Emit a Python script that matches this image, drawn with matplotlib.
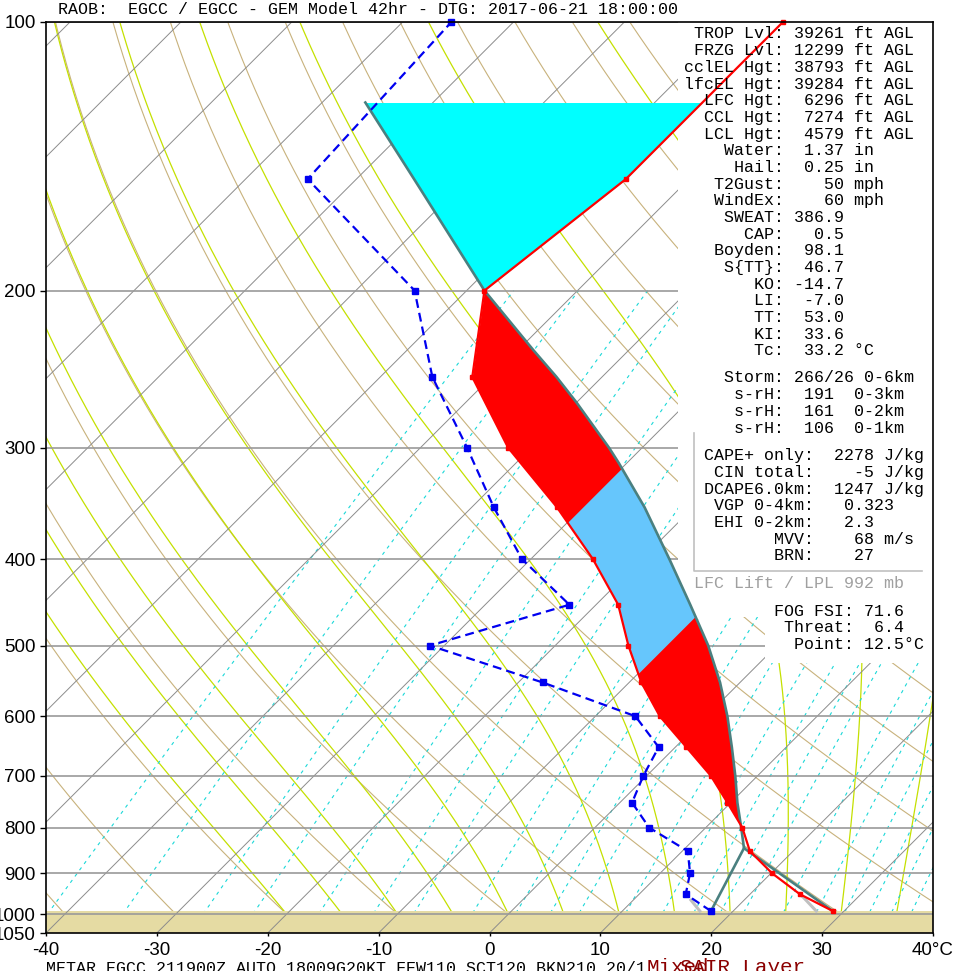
import numpy as np
import matplotlib
matplotlib.use('Agg')
import matplotlib.pyplot as plt
from matplotlib.patches import Rectangle
from matplotlib.ticker import NullLocator

# sounding levels (hPa), temperature / dewpoint (deg C)
pres = [992.3, 950, 900, 850, 800, 750, 700, 650, 600, 550, 500, 450, 400,
        350, 300, 250, 200, 150, 100]
temp = [29.0, 24.5, 20.1, 16.1, 13.3, 9.7, 5.8, 1.0, -4.2, -8.9, -13.4,
        -18.0, -24.4, -32.3, -42.1, -51.7, -58.4, -55.7, -55.7]
dewp = [18.0, 14.2, 12.7, 10.5, 4.9, 1.1, -0.3, -1.5, -6.4, -17.8, -31.3,
        -22.4, -30.8, -38.0, -45.8, -55.3, -64.7, -84.4, -85.6]

# lifted parcel from LPL 992 mb
parcel_p = [992.3, 843.5, 800, 750, 700, 650, 600, 550, 500, 450, 400, 350,
            312.3, 300, 267.0, 250, 233.3, 200, 150, 123.1]
parcel_t = [29.0, 15.3, 13.2, 10.6, 8.0, 5.1, 1.9, -1.8, -6.2, -11.5, -17.5,
            -24.4, -30.7, -33.0, -40.0, -44.1, -48.6, -58.4, -74.8, -86.1]
lcl_line_p = [992.3, 843.5]
lcl_line_t = [18.0, 15.3]
stub_p = [[964.5, 992.3], [956.4, 992.3]]
stub_t = [[15.2, 17.0], [25.0, 27.5]]
lfc_p = 795.0
el_p = 200.5
sfc_p = 992.3

x_ticks = [-40, -30, -20, -10, 0, 10, 20, 30, 40]
x_labels = ['-40', '-30', '-20', '-10', '0', '10', '20', '30', '40\u00b0C']
p_ticks = [100, 200, 300, 400, 500, 600, 700, 800, 900, 1000, 1050]

dry_theta = np.arange(-40, 171, 10)
moist_thw = np.arange(-20, 41, 5)
mix_ratios = [0.1, 0.2, 0.4, 0.6, 1, 1.5, 2, 3, 4, 5, 6, 8, 10, 12, 14, 16,
              20, 24, 28, 32, 36, 40]

title = 'RAOB:  EGCC / EGCC - GEM Model 42hr - DTG: 2017-06-21 18:00:00'
stat_labels = ['TROP Lvl', 'FRZG Lvl', 'cclEL Hgt', 'lfcEL Hgt', 'LFC Hgt',
               'CCL Hgt', 'LCL Hgt', 'Water', 'Hail', 'T2Gust', 'WindEx',
               'SWEAT', 'CAP', 'Boyden', 'S{TT}', 'KO', 'LI', 'TT', 'KI', 'Tc']
stat_values = ['39261 ft AGL', '12299 ft AGL', '38793 ft AGL', '39284 ft AGL',
               ' 6296 ft AGL', ' 7274 ft AGL', ' 4579 ft AGL', ' 1.37 in',
               ' 0.25 in', '   50 mph', '   60 mph', '386.9', '  0.5',
               ' 98.1', ' 46.7', '-14.7', ' -7.0', ' 53.0', ' 33.6',
               ' 33.2 \u00b0C']
storm_labels = ['Storm', 's-rH', 's-rH', 's-rH']
storm_values = ['266/26 0-6km', ' 191  0-3km', ' 161  0-2km', ' 106  0-1km']
cape_labels = ['CAPE+ only', 'CIN total', 'DCAPE6.0km', 'VGP 0-4km',
               'EHI 0-2km', 'MVV', 'BRN']
cape_values = [' 2278 J/kg', '   -5 J/kg', ' 1247 J/kg', '  0.323', '  2.3',
               '   68 m/s', '   27']
fog_labels = ['FOG FSI', 'Threat', 'Point']
fog_values = ['71.6', ' 6.4', '12.5\u00b0C']
metar = 'METAR EGCC 211900Z AUTO 18009G20KT FEW110 SCT120 BKN210 20/1'

W, H = 966, 971
AX_L, AX_R, AX_T, AX_B = 46, 933, 22, 933
K = ((AX_B - AX_T) / np.log10(1050 / 100.0)) / ((AX_R - AX_L) / 80.0)


def skew(t, p):
    return np.asarray(t, float) + K * np.log10(1050.0 / np.asarray(p, float))


def px(x, y):
    return x / W, 1 - y / H


def moist_rate(tk, p):
    rd, cp, lv, eps = 287.04, 1005.7, 2.501e6, 0.622
    es = 6.112 * np.exp(17.67 * (tk - 273.15) / (tk - 29.65))
    rs = eps * es / (p - es)
    return (rd * tk + lv * rs) / (cp + lv * lv * rs * eps / (rd * tk * tk)) / p


def moist_adiabats(thw, p):
    tk = np.zeros((len(p), len(thw)))
    tk[0] = np.asarray(thw, float) + 273.15
    for i in range(len(p) - 1):
        h = p[i + 1] - p[i]
        t = tk[i]
        k1 = moist_rate(t, p[i])
        k2 = moist_rate(t + h / 2 * k1, p[i] + h / 2)
        k3 = moist_rate(t + h / 2 * k2, p[i] + h / 2)
        k4 = moist_rate(t + h * k3, p[i] + h)
        tk[i + 1] = t + h / 6 * (k1 + 2 * k2 + 2 * k3 + k4)
    return tk - 273.15


fig = plt.figure(figsize=(W / 100, H / 100), dpi=100)
ax = fig.add_axes([AX_L / W, 1 - AX_B / H, (AX_R - AX_L) / W, (AX_B - AX_T) / H])
ax.set_yscale('log')
ax.set_xlim(-40, 40)
ax.set_ylim(1050, 100)

# background thermodynamic lines
pp = np.geomspace(1050, 100, 400)
for th in dry_theta:
    t = (th + 273.15) * (pp / 1000.0) ** 0.2857 - 273.15
    ax.plot(skew(t, pp), pp, color='#c8b27c', lw=0.8, zorder=1)

p_up = np.linspace(1000, 100, 451)
p_dn = np.linspace(1000, 1050, 26)
m_up = moist_adiabats(moist_thw, p_up)
m_dn = moist_adiabats(moist_thw, p_dn)
for j in range(len(moist_thw)):
    p_all = np.concatenate([p_dn[::-1], p_up[1:]])
    t_all = np.concatenate([m_dn[::-1, j], m_up[1:, j]])
    ax.plot(skew(t_all, p_all), p_all, color='#c4e000', lw=0.9, zorder=1)

pm = np.geomspace(1050, 200, 200)
for w in mix_ratios:
    e = w * pm / (622.0 + w)
    le = np.log(e / 6.112)
    td = 243.5 * le / (17.67 - le)
    ax.plot(skew(td, pm), pm, color='#1ad8d8', lw=0.8, ls=(0, (3, 4)), zorder=1)

ax.axhspan(sfc_p, 1050, color='#e5dba3', lw=0, zorder=1.5)

for t in range(-130, 50, 10):
    ax.plot(skew([t, t], [1050, 100]), [1050, 100], color='#8c8c8c', lw=0.7, zorder=1.6)
for p in p_ticks[:-1]:
    ax.axhline(p, color='#9a9a9a', lw=1.2, zorder=1.6)

# blank panels behind the index text
ax.add_patch(Rectangle(((678 - AX_L) / 887, (AX_B - 617) / 911), 1, 1,
                       transform=ax.transAxes, color='white', lw=0, zorder=2))
ax.add_patch(Rectangle(((765 - AX_L) / 887, (AX_B - 663) / 911), 1, 1,
                       transform=ax.transAxes, color='white', lw=0, zorder=2))
ax.plot([(694 - AX_L) / 887, (694 - AX_L) / 887, (922 - AX_L) / 887],
        [(AX_B - 433) / 911, (AX_B - 571) / 911, (AX_B - 571) / 911],
        transform=ax.transAxes, color='#c0c0c0', lw=1.2, zorder=2.5)

# CAPE / negative area / hail growth fills
pg = np.geomspace(sfc_p, parcel_p[-1], 3000)
lg = np.log(pg)
x_env = np.interp(lg, np.log(pres[::-1]), skew(temp, pres)[::-1])
x_par = np.interp(lg, np.log(parcel_p[::-1]), skew(parcel_t, parcel_p)[::-1])
ax.fill_betweenx(pg, x_env, x_par, where=(x_par > x_env) & (pg <= lfc_p),
                 color='#ff0000', lw=0, zorder=3)
ax.fill_betweenx(pg, x_par, x_env, where=(x_env >= x_par) & (pg <= el_p),
                 color='#00ffff', lw=0, zorder=3)
x_lo = np.maximum(x_env, skew(-30, pg))
x_hi = np.minimum(x_par, skew(-10, pg))
ax.fill_betweenx(pg, x_lo, x_hi, where=(x_hi > x_lo) & (pg <= lfc_p),
                 color='#66c6fc', lw=0, zorder=3.1)

# parcel trace
ax.plot(skew(parcel_t, parcel_p), parcel_p, color='#4a8080', lw=1.9, zorder=4)
ax.plot(skew(lcl_line_t, lcl_line_p), lcl_line_p, color='#4a8080', lw=1.9, zorder=4)
for sp, st in zip(stub_p, stub_t):
    ax.plot(skew(st, sp), sp, color='#c0c0c0', lw=2.2, zorder=4)

# sounding
ax.plot(skew(temp, pres), pres, color='#ff0000', lw=1.6, marker='s', ms=3.5,
        zorder=5, clip_on=False)
ax.plot(skew(dewp, pres), pres, color='#0000f0', lw=1.6, ls=(0, (4, 2.3)),
        marker='s', ms=3.8, zorder=5, clip_on=False)

ax.set_xticks(x_ticks)
ax.set_xticklabels(x_labels)
ax.set_yticks(p_ticks)
ax.set_yticklabels([str(p) for p in p_ticks])
ax.yaxis.set_minor_locator(NullLocator())
ax.tick_params(axis='y', length=4.5, width=1, pad=3, labelsize=13.5)
ax.tick_params(axis='x', length=2.5, width=1, pad=4, labelsize=13.5)
for lab in ax.get_xticklabels() + ax.get_yticklabels():
    lab.set_family('Liberation Sans')
for s in ax.spines.values():
    s.set_linewidth(1.2)
    s.set_zorder(6)

mono = dict(family='Liberation Mono', size=12, va='center', ha='left', color='black')
fig.text(*px(58, 9), title, **mono)

for i, (lab, val) in enumerate(zip(stat_labels, stat_values)):
    fig.text(*px(684, 34 + i * 16.67), f'{lab:>9}: {val}', zorder=7, **mono)
for i, (lab, val) in enumerate(zip(storm_labels, storm_values)):
    fig.text(*px(684, 378 + i * 16.67), f'{lab:>9}: {val}', zorder=7, **mono)
for i, (lab, val) in enumerate(zip(cape_labels, cape_values)):
    fig.text(*px(684, 455.7 + i * 16.67), f'{lab:>12}: {val}', zorder=7, **mono)
fig.text(*px(694, 583), 'LFC Lift / LPL 992 mb', zorder=7,
         **{**mono, 'color': '#a0a0a0'})
for i, (lab, val) in enumerate(zip(fog_labels, fog_values)):
    fig.text(*px(684, 611 + i * 16.67), f'{lab:>16}: {val}', zorder=7, **mono)

fig.text(*px(46, 961), metar, **{**mono, 'va': 'top'})
red = dict(family='Liberation Mono', size=15, color='#8b0000', va='top', ha='left')
fig.text(*px(647, 958), 'Mixed', **red)
fig.text(*px(680, 958), 'SAIR Layer', **red)

fig.savefig('out.png', dpi=100)
